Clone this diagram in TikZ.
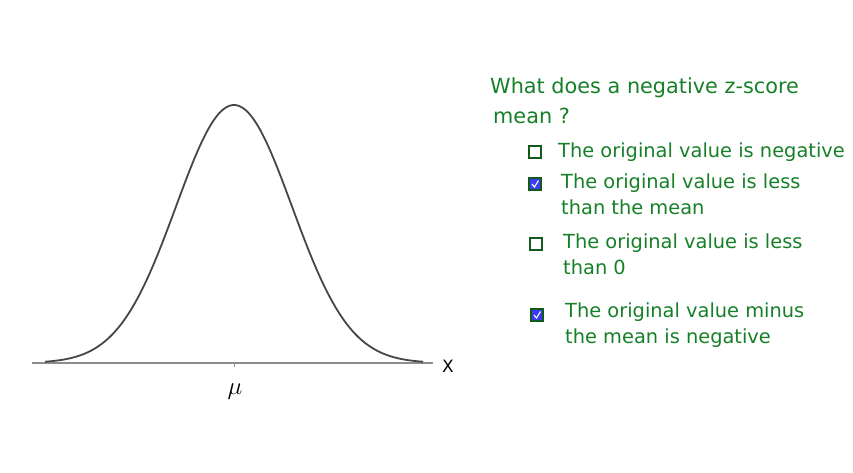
\documentclass[tikz,border=0pt]{standalone}
\usepackage{fontspec}
\setmainfont{DejaVu Sans}
\usepackage{tikz}
\usetikzlibrary{positioning,calc}
\definecolor{penGreen}{RGB}{22,128,40}
\definecolor{tickBlue}{RGB}{60,60,245}
\definecolor{curveGray}{RGB}{70,70,70}
\definecolor{axisGray}{RGB}{140,140,140}

\begin{document}
\begin{tikzpicture}[
    x=1pt, y=-1pt,
    ans/.style={font=\fontsize{19.4}{26}\selectfont,text=penGreen,anchor=west,align=left,inner sep=0pt},
    qtext/.style={ans,font=\fontsize{20.8}{25}\selectfont},
    cbox/.style={draw=penGreen!70!black,line width=1.4pt,minimum size=12pt,inner sep=0pt},
    cboxon/.style={cbox,fill=tickBlue},
    >=stealth
]
\useasboundingbox (0,0) rectangle (853,472);

% axis
\coordinate (xl) at (32,363);
\coordinate (xr) at (433,363);
\draw[axisGray,line width=1.2pt] (xl) -- (xr);
\node[font=\fontsize{17}{17}\selectfont,anchor=west,inner sep=0pt] (xlab) at (442,366) {X};
\coordinate (mu) at (234,363);
\draw[axisGray,line width=1pt] (mu) -- ++(0,4);
\node[font=\fontsize{25}{25}\selectfont] (mulab) at (235,392) {$\mu$};

% bell curve
\draw[curveGray,line width=1.8pt,smooth,samples=120,domain=45:423]
  plot (\x,{363-258*exp(-((\x-234)/58)^2/2)});

% question
\node[qtext] (q1) at (490,88) {What does a negative z-score};
\node[qtext] (q2) at (493,116) {mean ?};

% answers
\node[cbox] (b1) at (535,152) {};
\node[ans] (a1) at (558,152) {The original value is negative};

\node[cboxon] (b2) at (535,184) {};
\draw[white,line width=1.1pt] ($(b2.center)+(-3,0)$) -- ($(b2.center)+(-0.5,3)$) -- ($(b2.center)+(3.5,-3.5)$);
\node[ans,anchor=north west] (a2) at (561,174) {The original value is less\\than the mean};

\node[cbox] (b3) at (536,244) {};
\node[ans,anchor=north west] (a3) at (563,234) {The original value is less\\than 0};

\node[cboxon] (b4) at (537,315) {};
\draw[white,line width=1.1pt] ($(b4.center)+(-3,0)$) -- ($(b4.center)+(-0.5,3)$) -- ($(b4.center)+(3.5,-3.5)$);
\node[ans,anchor=north west] (a4) at (565,303) {The original value minus\\the mean is negative};
\end{tikzpicture}
\end{document}
